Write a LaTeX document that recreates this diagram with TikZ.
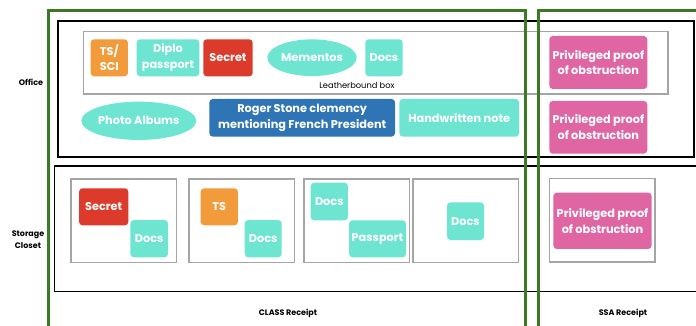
\documentclass[tikz,border=0pt]{standalone}
\usepackage{fontspec}
\setmainfont{Poppins}
\usetikzlibrary{shapes.geometric}
\definecolor{teal1}{HTML}{6EE5D1}
\definecolor{orange1}{HTML}{F29B3A}
\definecolor{red1}{HTML}{DC3A2A}
\definecolor{blue1}{HTML}{2F74B5}
\definecolor{pink1}{HTML}{E066A3}
\definecolor{green1}{HTML}{3A7A22}
\definecolor{gray1}{HTML}{A5A5A5}
\tikzset{
  card/.style={rectangle, rounded corners=3.5pt, text=white, align=center, inner sep=0pt,
    font=\fontsize{11.3}{15.7}\selectfont\bfseries},
  tealcard/.style={card, fill=teal1},
  orangecard/.style={card, fill=orange1},
  redcard/.style={card, fill=red1},
  bluecard/.style={card, fill=blue1},
  pinkcard/.style={card, fill=pink1},
  oval/.style={ellipse, fill=teal1, text=white, align=center, inner sep=0pt,
    font=\fontsize{11.3}{15.7}\selectfont\bfseries},
  greenframe/.style={draw=green1, line width=3pt},
  blackframe/.style={draw=black, line width=1.4pt},
  grayframe/.style={draw=gray1, line width=1.5pt},
  rowlabel/.style={align=center, font=\fontsize{8}{11.5}\selectfont\bfseries, inner sep=0pt},
  smalllabel/.style={font=\fontsize{8.3}{10}\selectfont, inner sep=0pt}
}
\begin{document}
\begin{tikzpicture}[x=1pt,y=-1pt]
\useasboundingbox (0,0) rectangle (696,326);
\clip (0,0) rectangle (696,326);
\fill[white] (0,0) rectangle (696,326);
% frames
\draw[blackframe] (58,21) rectangle (694,157);
\draw[blackframe] (54.3,166) rectangle (720,291.7);
\draw[grayframe] (83.3,31.7) rectangle (668,94);
% storage sub boxes
\draw[grayframe] (71,179) rectangle (176.7,262.7);
\draw[grayframe] (189,179) rectangle (294.7,262.7);
\draw[grayframe] (304,179) rectangle (409.3,262.7);
\draw[grayframe] (413,179) rectangle (518.3,262.7);
\draw[grayframe] (549.3,178.7) rectangle (655,262);
% office cards
\node[orangecard, minimum width=37.3pt, minimum height=37pt] (ts1) at (109.3,57.8) {TS/\\SCI};
\node[tealcard, minimum width=62.6pt, minimum height=37pt] (diplo) at (168,57.8) {Diplo\\passport};
\node[redcard, minimum width=49.4pt, minimum height=37pt] (sec1) at (228,57.8) {Secret};
\node[oval, minimum width=89.4pt, minimum height=36.7pt] (mem) at (312,57.7) {Mementos};
\node[tealcard, minimum width=37.4pt, minimum height=37pt] (docs1) at (384,57.8) {Docs};
\node[smalllabel] (leather) at (357,85) {Leatherbound box};
\node[pinkcard, minimum width=98pt, minimum height=53pt] (priv1) at (598.3,62.5) {Privileged proof\\of obstruction};
\node[pinkcard, minimum width=98pt, minimum height=52.7pt] (priv2) at (598.3,127.3) {Privileged proof\\of obstruction};
\node[oval, minimum width=104.3pt, minimum height=38.3pt] (photo) at (138.8,120.8) {Photo Albums};
\node[bluecard, minimum width=185.7pt, minimum height=37.7pt] (roger) at (302.2,117.8) {Roger Stone clemency\\mentioning French President};
\node[tealcard, minimum width=119.7pt, minimum height=37.7pt] (hand) at (459.2,117.8) {Handwritten note};
% storage cards
\node[redcard, minimum width=49.3pt, minimum height=37pt] (sec2) at (103.7,206.8) {Secret};
\node[tealcard, minimum width=37.7pt, minimum height=37.3pt] (docs2) at (149.2,238.7) {Docs};
\node[orangecard, minimum width=37.3pt, minimum height=37pt] (ts2) at (219.3,206.8) {TS};
\node[tealcard, minimum width=37pt, minimum height=37.3pt] (docs3) at (263.2,238.7) {Docs};
\node[tealcard, minimum width=37.3pt, minimum height=37.6pt] (docs4) at (329.3,201.5) {Docs};
\node[tealcard, minimum width=57pt, minimum height=37pt] (pass) at (377.5,238.8) {Passport};
\node[tealcard, minimum width=37pt, minimum height=37.7pt] (docs5) at (465.5,221.2) {Docs};
\node[pinkcard, minimum width=98.4pt, minimum height=56.3pt] (priv3) at (602.5,220.8) {Privileged proof\\of obstruction};
% labels
\node[rowlabel] (office) at (31,82) {Office};
\node[rowlabel] (storage) at (28,239.5) {Storage\\Closet};
\node[rowlabel] (class) at (288,313.3) {CLASS Receipt};
\node[rowlabel] (ssa) at (623,313.3) {SSA Receipt};
% green frames
\draw[greenframe] (48.7,10.7) rectangle (525,340);
\draw[greenframe] (538.7,10.7) rectangle (720,340);
\end{tikzpicture}
\end{document}
